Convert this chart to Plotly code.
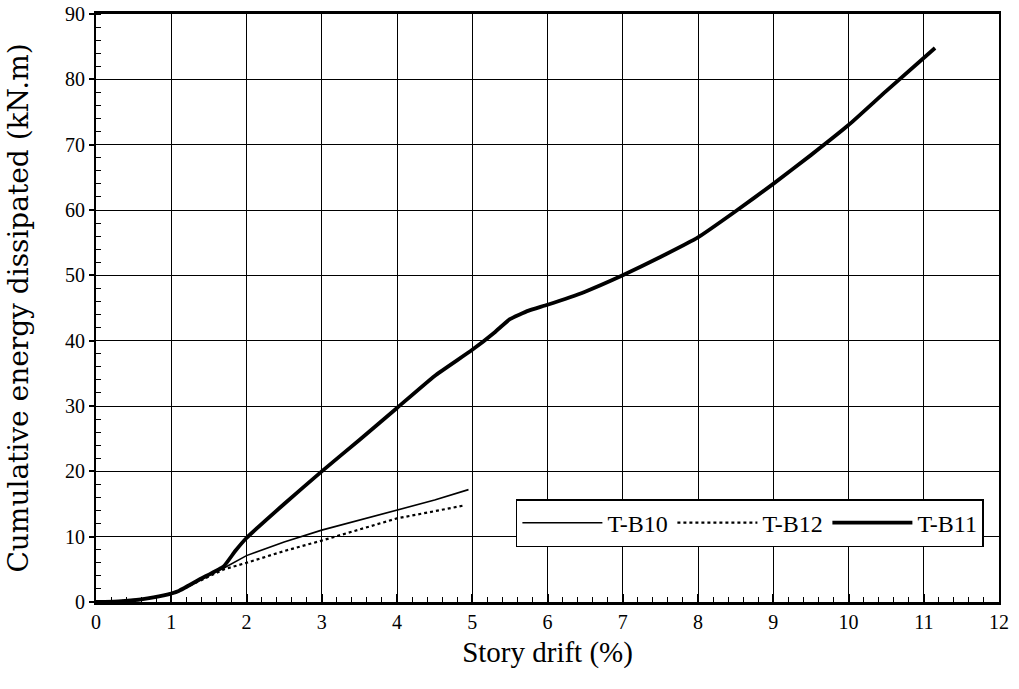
import plotly.graph_objects as go

# T-B10
drift_b10 = [0.0, 0.3, 0.6, 0.9, 1.1, 1.4, 1.7, 2.0, 2.5, 3.0, 3.5, 4.0, 4.5, 4.95]
energy_b10 = [0.0, 0.1, 0.4, 1.0, 1.7, 3.4, 5.2, 7.1, 9.2, 11.0, 12.5, 14.0, 15.6, 17.2]
# T-B12
drift_b12 = [0.0, 0.3, 0.6, 0.9, 1.1, 1.4, 1.7, 2.0, 2.5, 3.0, 3.5, 4.0, 4.5, 4.9]
energy_b12 = [0.0, 0.1, 0.4, 1.0, 1.7, 3.3, 5.0, 6.0, 7.8, 9.4, 11.1, 12.8, 13.9, 14.8]
# T-B11
drift_b11 = [0.0, 0.3, 0.6, 0.9, 1.1, 1.4, 1.7, 1.85, 2.0, 2.5, 3.0, 3.5, 4.0, 4.5, 5.0,
             5.3, 5.5, 5.75, 6.0, 6.5, 7.0, 7.5, 8.0, 8.5, 9.0, 9.5, 10.0, 10.5, 11.15]
energy_b11 = [0.0, 0.1, 0.4, 1.0, 1.7, 3.6, 5.5, 7.8, 9.8, 15.0, 20.0, 24.8, 29.7, 34.6, 38.6,
              41.3, 43.3, 44.6, 45.5, 47.5, 50.0, 52.8, 55.8, 59.8, 64.0, 68.4, 73.0, 78.2, 84.8]

x_ticks = list(range(0, 13))
y_ticks = list(range(0, 91, 10))

fig = go.Figure()
fig.add_trace(go.Scatter(x=drift_b10, y=energy_b10, mode="lines", name="T-B10",
                         line=dict(color="black", width=1.6)))
fig.add_trace(go.Scatter(x=drift_b12, y=energy_b12, mode="lines", name="T-B12",
                         line=dict(color="black", width=2.2, dash="dot")))
fig.add_trace(go.Scatter(x=drift_b11, y=energy_b11, mode="lines", name="T-B11",
                         line=dict(color="black", width=3.8, shape="spline", smoothing=0.4)))

font_family = "Liberation Serif"

fig.update_layout(
    width=1019, height=689,
    margin=dict(l=96, r=20, t=14, b=87),
    paper_bgcolor="white", plot_bgcolor="white",
    font=dict(family=font_family, color="black", size=20),
    showlegend=True,
    legend=dict(orientation="h", x=0.465, y=0.175, xanchor="left", yanchor="top",
                bgcolor="white", bordercolor="black", borderwidth=1.5,
                font=dict(family=font_family, size=24, color="black"),
                itemwidth=80,
                entrywidth=60, entrywidthmode="pixels",
                traceorder="normal"),
)
fig.update_xaxes(
    range=[0, 12], tickvals=x_ticks, ticktext=[str(v) for v in x_ticks],
    showgrid=True, gridcolor="black", gridwidth=1.3,
    showline=True, linecolor="black", linewidth=2.6, mirror=True,
    ticks="inside", ticklen=8, tickwidth=1.5, tickcolor="black",
    minor=dict(dtick=0.2, ticks="inside", ticklen=5, tickwidth=1, tickcolor="black", showgrid=False),
    zeroline=False, automargin=False, ticklabeloverflow="allow",
    tickfont=dict(family=font_family, size=20),
    title=dict(text="Story drift (%)", font=dict(family=font_family, size=29), standoff=10),
)
fig.update_yaxes(
    range=[0, 90], tickvals=y_ticks, ticktext=[str(v) for v in y_ticks],
    showgrid=True, gridcolor="black", gridwidth=1.3,
    showline=True, linecolor="black", linewidth=1.8, mirror=True,
    ticks="outside", ticklen=5, tickwidth=1.5, tickcolor="black",
    minor=dict(dtick=2, ticks="inside", ticklen=5, tickwidth=1, tickcolor="black", showgrid=False),
    zeroline=False, automargin=False, ticklabeloverflow="allow",
    tickfont=dict(family=font_family, size=20),
    title=dict(text="Cumulative energy dissipated (kN.m)",
               font=dict(family="DejaVu Serif", size=28), standoff=28),
)

fig.write_html("out.html", config={"displayModeBar": False},
               post_script="document.body.style.margin='0';")
